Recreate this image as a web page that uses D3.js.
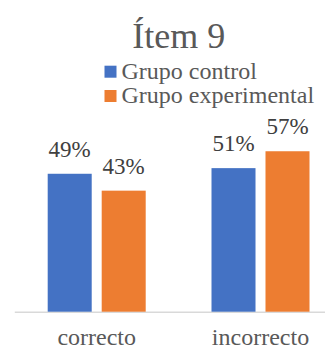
<!DOCTYPE html>
<html>
<head>
<meta charset="utf-8">
<script src="https://cdn.jsdelivr.net/npm/d3@7"></script>
<style>
  body { margin: 0; background: #fff; }
</style>
</head>
<body>
<div id="chart"></div>
<script>
const categories = ["correcto", "incorrecto"];
const series = ["Grupo control", "Grupo experimental"];
const controlValues = [0.49, 0.51];
const experimentalValues = [0.43, 0.57];
const colors = ["#4472C4", "#ED7D31"];
const title = "Ítem 9";

window.onload = function () {
    const w = 325;
    const h = 349;
    const baseY = 311.7;
    const serif = "'Liberation Serif', 'Times New Roman', Times, Tinos, 'DejaVu Serif', serif";

    const svg = d3.select("#chart")
        .append("svg")
        .attr("width", w)
        .attr("height", h)
        .style("display", "block")
        .attr("font-family", serif);

    const x0 = d3.scaleBand()
        .domain(categories)
        .range([14.8, 342.4]);

    const inner = (x0.bandwidth() - 98) / 2;
    const x1 = d3.scaleBand()
        .domain(series)
        .range([inner, x0.bandwidth() - inner])
        .paddingInner(0.185);

    const y = d3.scaleLinear()
        .domain([0, 0.6])
        .range([baseY, baseY - 2.815 * 60]);

    const rows = categories.map((c, i) => ({
        cat: c,
        vals: [controlValues[i], experimentalValues[i]]
    }));

    // baseline
    svg.append("line")
        .attr("x1", 14.8)
        .attr("x2", w)
        .attr("y1", baseY + 0.5)
        .attr("y2", baseY + 0.5)
        .attr("stroke", "#d9d9d9")
        .attr("stroke-width", 1.5);

    const groups = svg.selectAll("g.cat")
        .data(rows)
        .enter()
        .append("g")
        .attr("class", "cat")
        .attr("transform", d => `translate(${x0(d.cat)},0)`);

    groups.selectAll("rect")
        .data(d => d.vals.map((v, j) => ({ s: series[j], v: v, j: j })))
        .enter()
        .append("rect")
        .attr("x", d => x1(d.s))
        .attr("y", d => y(d.v))
        .attr("width", x1.bandwidth())
        .attr("height", d => baseY - y(d.v))
        .attr("fill", d => colors[d.j]);

    groups.selectAll("text.val")
        .data(d => d.vals.map((v, j) => ({ s: series[j], v: v })))
        .enter()
        .append("text")
        .attr("class", "val")
        .attr("x", d => x1(d.s) + x1.bandwidth() / 2)
        .attr("y", d => y(d.v) - 17)
        .attr("text-anchor", "middle")
        .attr("font-family", serif)
        .attr("font-size", "23px")
        .attr("fill", "#404040")
        .text(d => d3.format(".0%")(d.v));

    // category labels
    svg.selectAll("text.catlabel")
        .data(categories)
        .enter()
        .append("text")
        .attr("class", "catlabel")
        .attr("x", d => x0(d) + x0.bandwidth() / 2)
        .attr("y", 345)
        .attr("text-anchor", "middle")
        .attr("font-family", serif)
        .attr("font-size", "24px")
        .attr("fill", "#595959")
        .text(d => d);

    // title
    svg.append("text")
        .attr("x", 178.7)
        .attr("y", 48)
        .attr("text-anchor", "middle")
        .attr("font-family", serif)
        .attr("font-size", "36px")
        .attr("fill", "#595959")
        .text(title);

    // legend
    const legend = svg.selectAll("g.legend")
        .data(series)
        .enter()
        .append("g")
        .attr("class", "legend")
        .attr("transform", (d, i) => `translate(104.5,${65.7 + i * 24.3})`);

    legend.append("rect")
        .attr("width", 12)
        .attr("height", 12)
        .attr("fill", (d, i) => colors[i]);

    legend.append("text")
        .attr("x", 17)
        .attr("y", 13)
        .attr("font-family", serif)
        .attr("font-size", "24px")
        .attr("fill", "#595959")
        .text(d => d);
};
</script>
</body>
</html>
